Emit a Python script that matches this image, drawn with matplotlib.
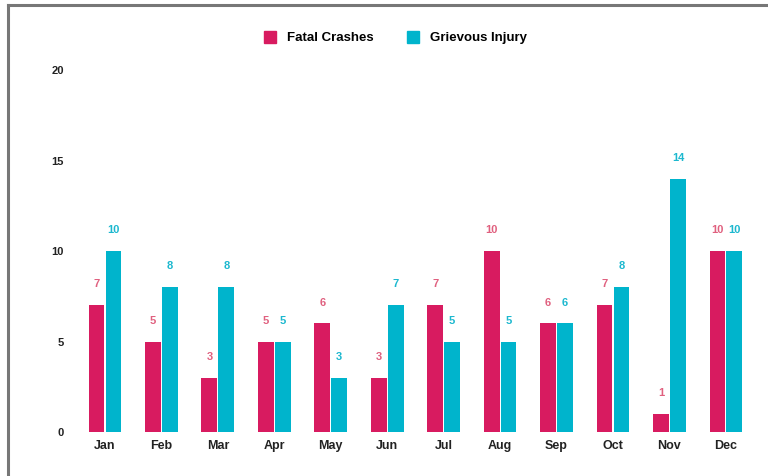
import matplotlib
matplotlib.use("Agg")
import matplotlib.pyplot as plt
import numpy as np
from matplotlib.lines import Line2D

months = ["Jan", "Feb", "Mar", "Apr", "May", "Jun", "Jul", "Aug", "Sep", "Oct", "Nov", "Dec"]
fatal_crashes = [7, 5, 3, 5, 6, 3, 7, 10, 6, 7, 1, 10]
grievous_injury = [10, 8, 8, 5, 3, 7, 5, 5, 6, 8, 14, 10]
y_ticks = [0, 5, 10, 15, 20]

PINK = "#d81b60"
PINK_TXT = "#e0607f"
CYAN = "#00b4cc"
CYAN_TXT = "#1cb8cf"

plt.rcParams["font.family"] = ["Liberation Sans", "DejaVu Sans"]

fig = plt.figure(figsize=(7.68, 4.76), dpi=100)
ax = fig.add_axes([0.0977, 0.0924, 0.885, 0.7605])

x = np.arange(len(months))
w = 0.28
gap = 0.02
b1 = ax.bar(x - (w + gap) / 2, fatal_crashes, w, color=PINK)
b2 = ax.bar(x + (w + gap) / 2, grievous_injury, w, color=CYAN)

for bars, vals, col in ((b1, fatal_crashes, PINK_TXT), (b2, grievous_injury, CYAN_TXT)):
    for rect, v in zip(bars, vals):
        ax.annotate(str(v), (rect.get_x() + rect.get_width() / 2, v),
                    xytext=(0, 15), textcoords="offset points",
                    ha="center", va="center", fontsize=8, fontweight="bold",
                    color=col, clip_on=False)

ax.set_xlim(-0.53, 11.51)
ax.set_ylim(0, 20)
ax.set_xticks(x)
ax.set_xticklabels(months, fontsize=9, fontweight="bold", color="#222222")
ax.set_yticks(y_ticks)
ax.set_yticklabels([str(t) for t in y_ticks], fontsize=8, fontweight="bold", color="#222222")
ax.tick_params(axis="both", length=0)
ax.tick_params(axis="x", pad=6)
ax.tick_params(axis="y", pad=8)
for s in ax.spines.values():
    s.set_visible(False)

handles = [Line2D([], [], marker="s", linestyle="", markersize=9, color=PINK),
           Line2D([], [], marker="s", linestyle="", markersize=9, color=CYAN)]
fig.legend(handles, ["Fatal Crashes", "Grievous Injury"], loc="center",
           bbox_to_anchor=(0.51, 0.92), ncol=2, frameon=False,
           prop={"size": 9.5, "weight": "bold"}, handletextpad=0.3, columnspacing=2.0)

# gray frame along top and left edges
fig.add_artist(Line2D([8 / 768, 8 / 768], [0, 1 - 5 / 476], transform=fig.transFigure,
                      color="#777777", lw=2.2))
fig.add_artist(Line2D([8 / 768, 1], [1 - 5 / 476, 1 - 5 / 476], transform=fig.transFigure,
                      color="#777777", lw=2.2))

fig.savefig("out.png", dpi=100)
